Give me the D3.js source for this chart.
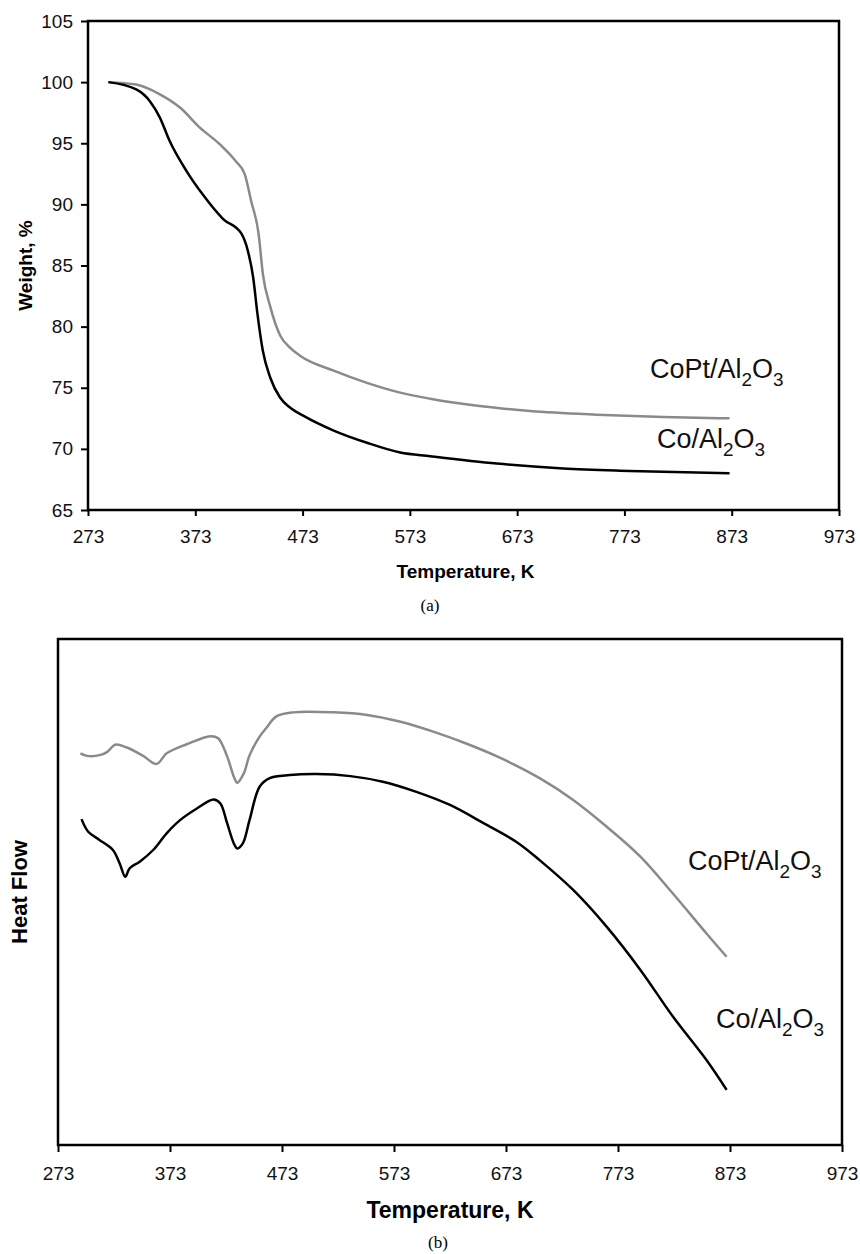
<!DOCTYPE html>
<html>
<head>
<meta charset="utf-8">
<script src="https://cdn.jsdelivr.net/npm/d3@7"></script>
<style>
  body { margin: 0; background: #fff; }
  svg { display: block; font-family: "Liberation Sans", Arial, sans-serif; }
  .frame { fill: none; stroke: #000; stroke-width: 2.5px; }
  .tick line { stroke: #000; stroke-width: 2px; }
  .domain { display: none; }
</style>
</head>
<body>
<div id="chart"></div>
<script>
// temperature ticks (K)
var tempTicks = [273, 373, 473, 573, 673, 773, 873, 973]
var weightTicks = [65, 70, 75, 80, 85, 90, 95, 100, 105]

// (a) TGA, weight % vs temperature
var tgaCoT = [292, 318, 331, 340, 349, 365, 380, 399, 416, 422, 427, 431, 436, 443, 452, 461, 474, 502, 533, 564, 592, 654, 716, 778, 871]
var tgaCoW = [100, 99.4, 98.4, 97.1, 95.2, 92.7, 90.8, 88.8, 87.6, 86.2, 84.0, 81.0, 78.0, 75.8, 74.2, 73.4, 72.7, 71.5, 70.5, 69.7, 69.4, 68.8, 68.4, 68.2, 68.0]
var tgaCoPtT = [292, 318, 340, 359, 377, 396, 411, 419, 425, 432, 436, 443, 452, 461, 471, 502, 533, 564, 592, 638, 685, 747, 809, 871]
var tgaCoPtW = [100, 99.8, 99.0, 97.9, 96.3, 94.9, 93.5, 92.5, 90.3, 87.6, 84.3, 81.6, 79.3, 78.3, 77.6, 76.4, 75.4, 74.6, 74.1, 73.5, 73.1, 72.8, 72.6, 72.5]

// (b) DSC, heat flow in arbitrary units
var dscCoT = [294, 300, 310, 322, 328, 333, 337, 346, 358, 370, 382, 397, 412, 418, 424, 430, 433, 438, 444, 453, 462, 480, 504, 534, 563, 593, 623, 653, 683, 703, 733, 763, 793, 822, 852, 870]
var dscCoH = [64.4, 61.9, 60.3, 58.3, 55.7, 53.0, 54.7, 56.0, 58.3, 61.6, 64.2, 66.5, 68.3, 67.5, 63.6, 59.6, 58.6, 59.6, 64.2, 70.8, 72.5, 73.1, 73.3, 72.9, 71.8, 69.8, 67.2, 63.6, 59.8, 56.3, 50.4, 43.1, 34.6, 25.4, 16.8, 10.9]
var dscCoPtT = [293, 299, 311, 317, 324, 334, 349, 361, 370, 388, 409, 416, 424, 430, 433, 439, 444, 453, 459, 468, 483, 519, 549, 578, 608, 638, 668, 703, 733, 763, 793, 822, 852, 870]
var dscCoPtH = [77.4, 76.9, 77.1, 77.7, 79.1, 78.6, 76.9, 75.3, 77.4, 79.2, 80.8, 80.4, 76.8, 72.8, 71.6, 73.5, 77.0, 80.7, 82.4, 84.7, 85.5, 85.5, 85.0, 83.7, 81.7, 79.3, 76.5, 72.5, 68.2, 62.9, 57.0, 49.7, 41.8, 37.2]

var W = 860, H = 1254
var svg = d3.select('#chart').append('svg').attr('width', W).attr('height', H)

function zip(xs, ys){ return xs.map((x, i) => [x, ys[i]]) }

function formula(g, x, y, base, size){
  var t = g.append('text').attr('x', x).attr('y', y)
    .style('font-size', size + 'px').attr('fill', '#111')
  t.append('tspan').text(base + 'Al')
  t.append('tspan').text('2').attr('dy', size*0.28).style('font-size', (size*0.7) + 'px')
  t.append('tspan').text('O').attr('dy', -size*0.28)
  t.append('tspan').text('3').attr('dy', size*0.28).style('font-size', (size*0.7) + 'px')
}

// ---------- (a) ----------
var a = {left: 88, right: 839, top: 21, bottom: 510}
var xa = d3.scaleLinear().domain([273, 973]).range([a.left, a.right])
var ya = d3.scaleLinear().domain([65, 105]).range([a.bottom, a.top])

var ga = svg.append('g')
ga.append('g').attr('transform', `translate(0,${a.bottom})`)
  .call(d3.axisBottom(xa).tickValues(tempTicks).tickSize(6).tickPadding(14).tickFormat(d3.format('d')))
  .selectAll('text').style('font-size', '19px').attr('fill', '#111')
ga.append('g').attr('transform', `translate(${a.left},0)`)
  .call(d3.axisLeft(ya).tickValues(weightTicks).tickSize(7).tickPadding(8))
  .selectAll('text').style('font-size', '19px').attr('fill', '#111')
ga.append('rect').attr('class', 'frame')
  .attr('x', a.left).attr('y', a.top).attr('width', a.right - a.left).attr('height', a.bottom - a.top)

var lineA = d3.line().x(d => xa(d[0])).y(d => ya(d[1])).curve(d3.curveMonotoneX)
ga.append('path').datum(zip(tgaCoPtT, tgaCoPtW)).attr('d', lineA)
  .attr('fill', 'none').attr('stroke', '#8a8a8a').attr('stroke-width', 2.5)
ga.append('path').datum(zip(tgaCoT, tgaCoW)).attr('d', lineA)
  .attr('fill', 'none').attr('stroke', '#000').attr('stroke-width', 2.5)

ga.append('text').text('Temperature, K').attr('x', (a.left + a.right)/2 + 2).attr('y', 578)
  .attr('text-anchor', 'middle').style('font-size', '19px').style('font-weight', 'bold')
ga.append('text').text('Weight, %')
  .attr('transform', `translate(32,${(a.top + a.bottom)/2}) rotate(-90)`)
  .attr('text-anchor', 'middle').style('font-size', '19px').style('font-weight', 'bold')
ga.append('text').text('(a)').attr('x', 430).attr('y', 611).attr('text-anchor', 'middle')
  .style('font-family', '"Liberation Serif", "Times New Roman", serif').style('font-size', '17px')

formula(ga, 650, 378, 'CoPt/', 27)
formula(ga, 657, 448, 'Co/', 27)

// ---------- (b) ----------
var b = {left: 58, right: 842, top: 639, bottom: 1145}
var xb = d3.scaleLinear().domain([273, 973]).range([b.left, b.right])
var yb = d3.scaleLinear().domain([0, 100]).range([b.bottom, b.top])

var gb = svg.append('g')
gb.append('g').attr('transform', `translate(0,${b.bottom})`)
  .call(d3.axisBottom(xb).tickValues(tempTicks).tickSize(7).tickPadding(15).tickFormat(d3.format('d')))
  .selectAll('text').style('font-size', '19px').attr('fill', '#111')
gb.append('rect').attr('class', 'frame')
  .attr('x', b.left).attr('y', b.top).attr('width', b.right - b.left).attr('height', b.bottom - b.top)

var lineB = d3.line().x(d => xb(d[0])).y(d => yb(d[1])).curve(d3.curveCatmullRom)
gb.append('path').datum(zip(dscCoPtT, dscCoPtH)).attr('d', lineB)
  .attr('fill', 'none').attr('stroke', '#8a8a8a').attr('stroke-width', 2.5)
gb.append('path').datum(zip(dscCoT, dscCoH)).attr('d', lineB)
  .attr('fill', 'none').attr('stroke', '#000').attr('stroke-width', 2.5)

gb.append('text').text('Temperature, K').attr('x', (b.left + b.right)/2).attr('y', 1218)
  .attr('text-anchor', 'middle').style('font-size', '23px').style('font-weight', 'bold')
gb.append('text').text('Heat Flow')
  .attr('transform', `translate(27,${(b.top + b.bottom)/2}) rotate(-90)`)
  .attr('text-anchor', 'middle').style('font-size', '22px').style('font-weight', 'bold')
gb.append('text').text('(b)').attr('x', 438).attr('y', 1248).attr('text-anchor', 'middle')
  .style('font-family', '"Liberation Serif", "Times New Roman", serif').style('font-size', '17px')

formula(gb, 688, 870, 'CoPt/', 27)
formula(gb, 716, 1028, 'Co/', 27)
</script>
</body>
</html>
